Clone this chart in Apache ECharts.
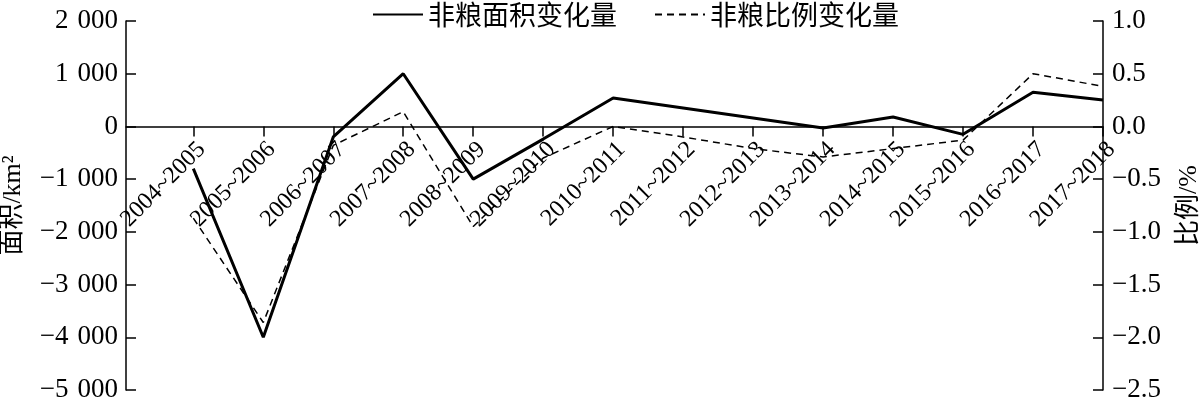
<!DOCTYPE html>
<html>
<head>
<meta charset="utf-8">
<script src="https://cdn.jsdelivr.net/npm/echarts@6/dist/echarts.min.js"></script>
<style>html,body{margin:0;padding:0;background:#fff}#c{width:1200px;height:402px}</style>
</head>
<body>
<div id="c"></div>
<script>
const categories = ['2004~2005','2005~2006','2006~2007','2007~2008','2008~2009','2009~2010','2010~2011','2011~2012','2012~2013','2013~2014','2014~2015','2015~2016','2016~2017','2017~2018'];
const areaChange = [-800, -4000, -200, 1000, -1000, -240, 540, 350, 160, -30, 180, -150, 650, 500];
const ratioChange = [-0.87, -1.86, -0.18, 0.14, -0.95, -0.30, 0.0, -0.10, -0.21, -0.29, -0.21, -0.13, 0.50, 0.38];
const seriesNames = ['非粮面积变化量', '非粮比例变化量'];
const axisNames = ['面积/km²', '比例/%'];
const leftTicks = { min: -5000, max: 2000, interval: 1000 };
const rightTicks = { min: -2.5, max: 1.0, interval: 0.5 };

const serif = '"Liberation Serif", "Times New Roman", "Noto Sans CJK SC", serif';
const cjk = '"Noto Sans CJK SC", sans-serif';
const idx = categories.map((_, i) => i);
function fmtLeft(v) {
  const a = Math.abs(v);
  let s = String(a).replace(/\B(?=(\d{3})+(?!\d))/g, '\u2004');
  return (v < 0 ? '\u2212' : '') + s;
}
function fmtRight(v) {
  return (v < 0 ? '\u2212' : '') + Math.abs(v).toFixed(1);
}
const gridTop = 21, gridBottom = 12, H = 402;
const gridH = H - gridTop - gridBottom;
const zeroOffset = -gridH * (0 - leftTicks.min) / (leftTicks.max - leftTicks.min);

const chart = echarts.init(document.getElementById('c'));
chart.setOption({
  backgroundColor: '#fff',
  animation: false,
  legend: {
    left: 367, top: -4,
    itemWidth: 50, itemHeight: 14, itemGap: 37,
    itemStyle: { opacity: 0 },
    textStyle: { fontFamily: cjk, fontSize: 27, color: '#000' },
    data: seriesNames
  },
  grid: { left: 126, right: 97, top: gridTop, bottom: gridBottom, containLabel: false, outerBoundsMode: 'none' },
  xAxis: {
    type: 'value', min: -0.962, max: categories.length - 1,
    position: 'bottom', offset: zeroOffset,
    axisLine: { onZero: false, lineStyle: { color: '#000', width: 1.5 } },
    axisTick: { show: true, inside: false, length: 10, customValues: idx, lineStyle: { color: '#000', width: 1.5 } },
    axisLabel: { customValues: idx, rotate: 45, margin: 11, verticalAlign: 'top',
      formatter: v => categories[Math.round(v)] || '',
      fontFamily: serif, fontSize: 24, color: '#000' },
    splitLine: { show: false }
  },
  yAxis: [{
    type: 'value', min: leftTicks.min, max: leftTicks.max, interval: leftTicks.interval,
    name: axisNames[0], nameLocation: 'middle', nameGap: 100, nameRotate: 90,
    nameTextStyle: { fontFamily: serif, fontSize: 26, color: '#000' },
    axisLine: { show: true, onZero: false, lineStyle: { color: '#000', width: 1.5 } },
    axisTick: { show: true, inside: true, length: 10, lineStyle: { color: '#000', width: 1.5 } },
    axisLabel: { formatter: fmtLeft, margin: 8, fontFamily: serif, fontSize: 27, color: '#000' },
    splitLine: { show: false }
  }, {
    type: 'value', min: rightTicks.min, max: rightTicks.max, interval: rightTicks.interval, position: 'right',
    name: axisNames[1], nameLocation: 'middle', nameGap: 73, nameRotate: 90,
    nameTextStyle: { fontFamily: serif, fontSize: 26, color: '#000' },
    axisLine: { show: true, onZero: false, lineStyle: { color: '#000', width: 1.5 } },
    axisTick: { show: true, inside: true, length: 10, lineStyle: { color: '#000', width: 1.5 } },
    axisLabel: { formatter: fmtRight, margin: 9, fontFamily: serif, fontSize: 27, color: '#000' },
    splitLine: { show: false }
  }],
  series: [{
    name: seriesNames[0], type: 'line', yAxisIndex: 0,
    data: areaChange.map((v, i) => [i, v]),
    showSymbol: false, symbol: 'none',
    lineStyle: { color: '#000', width: 3 }, itemStyle: { color: '#000' }
  }, {
    name: seriesNames[1], type: 'line', yAxisIndex: 1,
    data: ratioChange.map((v, i) => [i, v]),
    showSymbol: false, symbol: 'none',
    lineStyle: { color: '#000', width: 1.5, type: [7, 5] }, itemStyle: { color: '#000' }
  }]
});
</script>
</body>
</html>
